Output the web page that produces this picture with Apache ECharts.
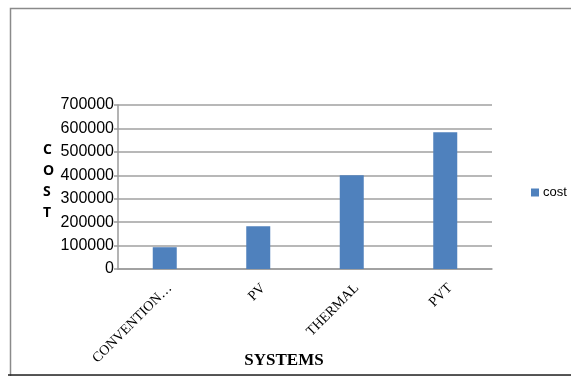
<!DOCTYPE html>
<html>
<head>
<meta charset="utf-8">
<script src="https://cdn.jsdelivr.net/npm/echarts@6/dist/echarts.min.js"></script>
<style>
  html, body { margin: 0; padding: 0; background: #fff; }
  #chart { width: 571px; height: 376px; }
</style>
</head>
<body>
<div id="chart"></div>
<script>
// System categories and their cost
const systems = ['CONVENTION…', 'PV', 'THERMAL', 'PVT'];
const cost = [93000, 183000, 400000, 584000];
const yTicks = [0, 100000, 200000, 300000, 400000, 500000, 600000, 700000];

const chart = echarts.init(document.getElementById('chart'), null, { renderer: 'canvas' });

chart.setOption({
  animation: false,
  backgroundColor: '#ffffff',
  grid: { left: 118, right: 79, top: 105, bottom: 107, containLabel: false, outerBoundsMode: 'none' },
  legend: {
    data: ['cost'],
    left: 531, top: 186, padding: 0,
    itemWidth: 8, itemHeight: 8, itemGap: 3,
    icon: 'rect',
    textStyle: { fontFamily: 'Liberation Sans', fontSize: 13, color: '#000', padding: [0, 0, 0, -1] }
  },
  xAxis: {
    type: 'category',
    data: systems,
    axisLine: { lineStyle: { color: '#9a9a9a', width: 1.5 } },
    axisTick: { show: false },
    axisLabel: { rotate: 45, margin: 12, verticalAlign: 'top', fontFamily: 'Liberation Serif', fontSize: 14, color: '#000' }
  },
  yAxis: {
    type: 'value',
    min: 0, max: 700000, interval: 100000,
    axisLine: { show: true, lineStyle: { color: '#9a9a9a', width: 1.5 } },
    axisTick: { show: true, length: 4, lineStyle: { color: '#9a9a9a', width: 1.5 } },
    splitLine: { lineStyle: { color: '#a0a0a0', width: 1.5 } },
    axisLabel: {
      margin: 4,
      fontFamily: 'Liberation Sans', fontSize: 16, color: '#000',
      formatter: v => yTicks.includes(v) ? String(v) : ''
    }
  },
  series: [{
    name: 'cost',
    type: 'bar',
    data: cost,
    barWidth: 24,
    itemStyle: { color: '#4F81BD' }
  }],
  graphic: [
    // outer frame
    { type: 'rect', left: 8, top: 6, shape: { width: 600, height: 368 },
      style: { fill: 'none', stroke: '#8a8a8a', lineWidth: 1.5 }, silent: true, z: -1 },
    { type: 'line', shape: { x1: 8, y1: 375, x2: 571, y2: 375 },
      style: { stroke: '#222', lineWidth: 1.5 }, silent: true },
    // horizontal axis title
    { type: 'text', x: 284, y: 361,
      style: { text: 'SYSTEMS', font: 'bold 17px "Liberation Serif"', fill: '#000', align: 'center', verticalAlign: 'middle' } },
    // vertical axis title, stacked letters
    { type: 'text', left: 43, top: 140,
      style: { text: 'C\nO\nS\nT', font: 'bold 14px "Open Sans"', fill: '#000', lineHeight: 21, align: 'center' } }
  ]
});
</script>
</body>
</html>
